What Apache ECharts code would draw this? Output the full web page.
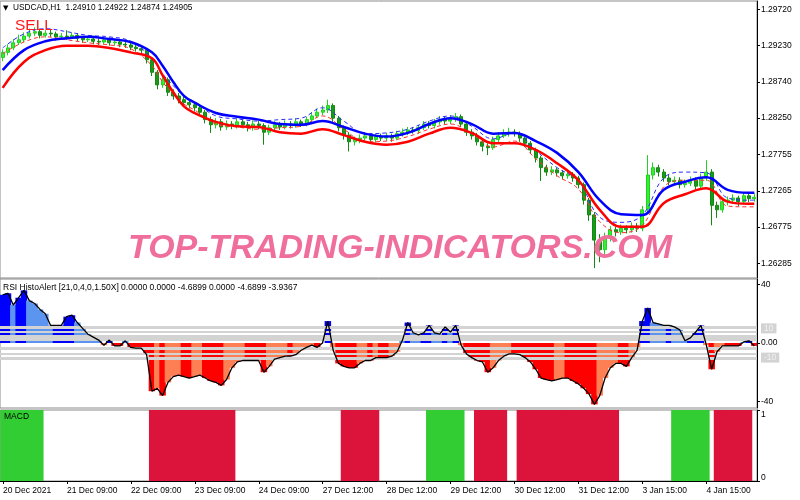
<!DOCTYPE html>
<html><head><meta charset="utf-8">
<script src="https://cdn.jsdelivr.net/npm/echarts@6/dist/echarts.min.js"></script>
<style>html,body{margin:0;padding:0;background:#fff}#c{width:800px;height:500px}</style>
</head><body><div id="c"></div>
<script>
// ---- price candles (H1 bars, sampled) ----
const opens = [
1.2907,1.2914,1.2920,1.2927,1.2931,1.2936,1.2940,1.2942,1.2937,1.2940,1.2939,1.2935,
1.2936,1.2935,1.2937,1.2933,1.2931,1.2932,1.2929,1.2928,1.2931,1.2927,1.2928,1.2925,
1.2924,1.2921,1.2919,1.2917,1.2904,1.2887,1.2870,1.2877,1.2860,1.2855,1.2850,1.2846,
1.2843,1.2839,1.2833,1.2823,1.2816,1.2820,1.2813,1.2817,1.2815,1.2820,1.2816,1.2812,
1.2817,1.2815,1.2806,1.2812,1.2816,1.2813,1.2817,1.2815,1.2820,1.2817,1.2823,1.2828,
1.2833,1.2836,1.2842,1.2825,1.2812,1.2802,1.2793,1.2796,1.2798,1.2801,1.2796,1.2800,
1.2798,1.2801,1.2798,1.2804,1.2806,1.2809,1.2808,1.2812,1.2817,1.2815,1.2820,1.2823,
1.2821,1.2824,1.2827,1.2817,1.2806,1.2801,1.2793,1.2787,1.2785,1.2796,1.2801,1.2804,
1.2806,1.2804,1.2798,1.2791,1.2782,1.2771,1.2758,1.2752,1.2755,1.2751,1.2747,1.2749,
1.2744,1.2735,1.2714,1.2694,1.2660,1.2647,1.2663,1.2674,1.2671,1.2676,1.2674,1.2679,
1.2676,1.2701,1.2748,1.2758,1.2752,1.2744,1.2739,1.2741,1.2735,1.2737,1.2741,1.2733,
1.2744,1.2752,1.2707,1.2701,1.2712,1.2714,1.2717,1.2712,1.2720,1.2716];
const closes = [
1.2914,1.2920,1.2927,1.2931,1.2936,1.2940,1.2942,1.2937,1.2940,1.2939,1.2935,1.2936,
1.2935,1.2937,1.2933,1.2931,1.2932,1.2929,1.2928,1.2931,1.2927,1.2928,1.2925,1.2924,
1.2921,1.2919,1.2917,1.2904,1.2887,1.2870,1.2877,1.2860,1.2855,1.2850,1.2846,1.2843,
1.2839,1.2833,1.2823,1.2816,1.2820,1.2813,1.2817,1.2815,1.2820,1.2816,1.2812,1.2817,
1.2815,1.2806,1.2812,1.2816,1.2813,1.2817,1.2815,1.2820,1.2817,1.2823,1.2828,1.2833,
1.2836,1.2842,1.2825,1.2812,1.2802,1.2793,1.2796,1.2798,1.2801,1.2796,1.2800,1.2798,
1.2801,1.2798,1.2804,1.2806,1.2809,1.2808,1.2812,1.2817,1.2815,1.2820,1.2823,1.2821,
1.2824,1.2827,1.2817,1.2806,1.2801,1.2793,1.2787,1.2785,1.2796,1.2801,1.2804,1.2806,
1.2804,1.2798,1.2791,1.2782,1.2771,1.2758,1.2752,1.2755,1.2751,1.2747,1.2749,1.2744,
1.2735,1.2714,1.2694,1.2660,1.2647,1.2663,1.2674,1.2671,1.2676,1.2674,1.2679,1.2676,
1.2701,1.2748,1.2758,1.2752,1.2744,1.2739,1.2741,1.2735,1.2737,1.2741,1.2733,1.2744,
1.2752,1.2707,1.2701,1.2712,1.2714,1.2717,1.2712,1.2720,1.2716,1.2718];
const highs = [
1.2918,1.2925,1.2932,1.2938,1.2941,1.2946,1.2948,1.2946,1.2944,1.2945,1.2942,1.2940,
1.2944,1.2941,1.2940,1.2936,1.2936,1.2935,1.2933,1.2935,1.2934,1.2932,1.2931,1.2929,
1.2927,1.2925,1.2923,1.2920,1.2907,1.2890,1.2882,1.2880,1.2864,1.2859,1.2854,1.2850,
1.2847,1.2843,1.2836,1.2827,1.2825,1.2824,1.2822,1.2821,1.2825,1.2824,1.2820,1.2822,
1.2821,1.2818,1.2816,1.2821,1.2820,1.2822,1.2821,1.2825,1.2823,1.2827,1.2833,1.2838,
1.2842,1.2850,1.2845,1.2828,1.2815,1.2806,1.2800,1.2803,1.2806,1.2804,1.2804,1.2804,
1.2805,1.2804,1.2808,1.2811,1.2813,1.2813,1.2816,1.2821,1.2821,1.2824,1.2828,1.2827,
1.2829,1.2832,1.2830,1.2820,1.2810,1.2805,1.2797,1.2791,1.2800,1.2806,1.2810,1.2812,
1.2810,1.2807,1.2801,1.2794,1.2785,1.2774,1.2762,1.2760,1.2758,1.2755,1.2754,1.2752,
1.2747,1.2738,1.2717,1.2698,1.2668,1.2670,1.2679,1.2678,1.2681,1.2680,1.2684,1.2683,
1.2706,1.2775,1.2765,1.2762,1.2756,1.2748,1.2746,1.2745,1.2742,1.2746,1.2745,1.2750,
1.2768,1.2756,1.2712,1.2717,1.2719,1.2722,1.2720,1.2725,1.2724,1.2723];
const lows = [
1.2902,1.2910,1.2917,1.2924,1.2928,1.2933,1.2936,1.2933,1.2934,1.2935,1.2930,1.2931,
1.2931,1.2932,1.2929,1.2927,1.2928,1.2925,1.2924,1.2925,1.2923,1.2923,1.2921,1.2920,
1.2917,1.2915,1.2911,1.2899,1.2882,1.2864,1.2866,1.2855,1.2850,1.2845,1.2841,1.2838,
1.2834,1.2828,1.2818,1.2805,1.2811,1.2808,1.2809,1.2810,1.2811,1.2812,1.2807,1.2808,
1.2810,1.2789,1.2802,1.2808,1.2809,1.2810,1.2811,1.2812,1.2813,1.2814,1.2820,1.2825,
1.2829,1.2832,1.2820,1.2807,1.2796,1.2780,1.2788,1.2791,1.2794,1.2791,1.2792,1.2794,
1.2794,1.2793,1.2795,1.2800,1.2802,1.2804,1.2804,1.2809,1.2811,1.2811,1.2816,1.2817,
1.2817,1.2820,1.2813,1.2801,1.2796,1.2788,1.2780,1.2775,1.2782,1.2792,1.2798,1.2800,
1.2800,1.2793,1.2786,1.2777,1.2765,1.2740,1.2747,1.2748,1.2746,1.2742,1.2743,1.2739,
1.2730,1.2708,1.2686,1.2622,1.2630,1.2640,1.2658,1.2665,1.2667,1.2669,1.2670,1.2671,
1.2672,1.2698,1.2742,1.2746,1.2739,1.2734,1.2735,1.2730,1.2731,1.2733,1.2728,1.2730,
1.2740,1.2680,1.2690,1.2697,1.2707,1.2709,1.2706,1.2708,1.2711,1.2712];

// ---- moving average envelopes, read at these bar indices ----
const maIdx = [0,4,8,12,16,20,24,28,30,32,34,36,40,44,48,52,56,60,64,68,72,76,80,84,88,92,96,100,104,108,112,116,120,124,128,132,136,140,141];
const maUpper = [1.2890,1.2917,1.2929,1.2933,1.2935,1.2932,1.2928,1.2914,1.2896,1.2874,1.2855,1.2846,1.2832,1.2827,1.2823,1.2817,1.2816,1.2821,1.2813,1.2804,1.2800,1.2805,1.2817,1.2825,1.2817,1.2804,1.2805,1.2794,1.2778,1.2752,1.2714,1.2695,1.2694,1.2728,1.2739,1.2745,1.2728,1.2724,1.2724];
const maLower = [1.2866,1.2901,1.2917,1.2923,1.2923,1.2920,1.2914,1.2906,1.2883,1.2860,1.2841,1.2832,1.2820,1.2814,1.2813,1.2806,1.2804,1.2810,1.2802,1.2793,1.2789,1.2793,1.2804,1.2812,1.2805,1.2791,1.2791,1.2782,1.2764,1.2741,1.2701,1.2678,1.2678,1.2710,1.2722,1.2730,1.2712,1.2709,1.2709];
const fastUpper = [1.2920,1.2939,1.2946,1.2942,1.2937,1.2935,1.2929,1.2906,1.2885,1.2869,1.2855,1.2847,1.2828,1.2824,1.2821,1.2823,1.2825,1.2839,1.2821,1.2804,1.2805,1.2810,1.2821,1.2828,1.2814,1.2797,1.2805,1.2781,1.2758,1.2740,1.2691,1.2684,1.2694,1.2744,1.2752,1.2751,1.2717,1.2714,1.2714];
const fastLower = [1.2912,1.2928,1.2935,1.2931,1.2927,1.2924,1.2919,1.2896,1.2874,1.2858,1.2844,1.2836,1.2817,1.2813,1.2810,1.2812,1.2814,1.2828,1.2810,1.2793,1.2794,1.2800,1.2810,1.2817,1.2804,1.2786,1.2794,1.2770,1.2747,1.2729,1.2685,1.2670,1.2680,1.2732,1.2741,1.2741,1.2706,1.2705,1.2705];

// ---- RSI HistoAlert ----
const rsiValues = [
33,34,26,31,36,29,27,23,20,12,12,12,
18,19,14,10,6,4,2,-1.5,2,-2,-2,1.5,
-3,-3.5,-3.5,-8,-33,-31,-36,-27,-23,-22,-23,-24,
-23,-22,-24,-26,-27,-29,-25,-17,-13,-12,-12,-12,
-12,-20,-16,-11,-10,-9,-9,-8,-5,-3,-1.5,-3,
0,15,-5,-14,-16,-17,-17,-14,-12,-12,-10,-10,
-10,-9,-6,2,14,7,5.5,7,12,7,6,11,
7.5,12,-1.5,-7.5,-10,-12,-13,-20,-17,-12,-9,-7.5,
-7.5,-8,-10,-13,-18,-24,-25,-26,-25,-24,-24,-26,
-28,-31,-35,-42,-36,-24,-17,-14,-14,-16,-10,-5,
15,24,14,13,12,12,11,9,1.5,3.5,7.5,12,
-1.5,-18,-6,-2,-2,-2,-2,0.7,1.5,-2];
const rsiLevels = [10.5, 7.5, 3.5, -3.5, -7.3, -10.7];
const rsiLevelWidths = [3, 2, 6, 3, 2, 3];

// ---- MACD state blocks ----
const macdStart = [0, 28, 64, 80, 89, 97, 126, 134];
const macdEnd   = [7, 43, 70, 86, 94, 115, 132, 140];
const macdSign  = [1, -1, -1, 1, -1, -1, 1, -1];

// ---- ticks ----
const priceTicks = [1.29720, 1.29230, 1.28740, 1.28250, 1.27755, 1.27265, 1.26775, 1.26285];
const rsiTicks = [40, 10, 0, -10, -40];
const xTickBars = [0, 12, 24, 36, 48, 60, 72, 84, 96, 108, 120, 132];
const xTickLabels = ['20 Dec 2021','21 Dec 09:00','22 Dec 09:00','23 Dec 09:00','24 Dec 09:00','27 Dec 12:00','28 Dec 12:00','29 Dec 12:00','30 Dec 12:00','31 Dec 12:00','3 Jan 15:00','4 Jan 15:00'];

// ---- build ----
const N = closes.length;
const cats = Array.from({length: N}, (_, i) => i);
const candles = cats.map(i => [opens[i], closes[i], lows[i], highs[i]]);
const pairs = arr => maIdx.map((b, k) => [b, arr[k]]);
const rsiBars = rsiValues.map((v, i) => {
  const prev = i > 0 ? rsiValues[i - 1] : 0;
  const strong = Math.abs(v) >= Math.abs(prev);
  const color = v >= 0 ? (strong ? '#0000ff' : '#5b95ef') : (strong ? '#ff0000' : '#ff7f55');
  return {value: v, itemStyle: {color}};
});
const macdUp = cats.map(() => null), macdDn = cats.map(() => null);
macdStart.forEach((s, k) => { for (let i = s; i <= macdEnd[k]; i++) { if (macdSign[k] > 0) macdUp[i] = 1; else macdDn[i] = 1; } });

const FONT = '"Liberation Sans",Arial,sans-serif';
const FS = 8.5;
const isTick = i => xTickBars.indexOf(i) >= 0;
const gridCommon = {left: 0, right: 43, show: true, borderColor: '#8a8a8a', borderWidth: 1, backgroundColor: '#fff'};
const hiddenX = (gi) => ({type: 'category', gridIndex: gi, data: cats, boundaryGap: true,
  axisLine: {show: false}, axisTick: {show: false}, axisLabel: {show: false}, splitLine: {show: false}});

const chart = echarts.init(document.getElementById('c'), null, {renderer: 'canvas'});
chart.setOption({
  animation: false,
  backgroundColor: '#fff',
  grid: [
    Object.assign({top: 1, height: 277}, gridCommon),
    Object.assign({top: 279, height: 129}, gridCommon),
    Object.assign({top: 410, height: 71}, gridCommon)
  ],
  xAxis: [
    hiddenX(0), hiddenX(1),
    {type: 'category', gridIndex: 2, data: cats, boundaryGap: true,
     axisLine: {show: true, lineStyle: {color: '#000'}},
     axisTick: {show: true, alignWithLabel: true, interval: (i) => isTick(i), length: 3, lineStyle: {color: '#000'}},
     axisLabel: {show: true, interval: (i) => isTick(i), align: 'left', margin: 5, color: '#000', fontSize: FS, fontFamily: FONT,
       formatter: (v, i) => xTickLabels[xTickBars.indexOf(i)] || ''},
     splitLine: {show: false}}
  ],
  yAxis: [
    {type: 'value', gridIndex: 0, position: 'right', min: 1.26087, max: 1.29835,
     axisLine: {show: true, lineStyle: {color: '#000'}},
     axisTick: {show: true, length: 3, customValues: priceTicks, lineStyle: {color: '#000'}},
     axisLabel: {customValues: priceTicks, formatter: v => v.toFixed(5), color: '#000', fontSize: FS, margin: 4, fontFamily: FONT},
     splitLine: {show: false}},
    {type: 'value', gridIndex: 1, position: 'right', min: -44.5, max: 43.8,
     axisLine: {show: true, lineStyle: {color: '#000'}},
     axisTick: {show: true, length: 3, customValues: [40, 0, -40], lineStyle: {color: '#000'}},
     axisLabel: {customValues: rsiTicks, color: '#000', fontSize: FS, margin: 4, fontFamily: FONT,
       formatter: v => (v === 10 || v === -10) ? '{lv|' + v + '}' : (v === 0 ? '0.00' : String(v)),
       rich: {lv: {backgroundColor: '#d3d3d3', color: '#f2f2f2', padding: [1, 3, 0, 3], fontSize: FS, fontFamily: FONT}}},
     splitLine: {show: false}},
    {type: 'value', gridIndex: 2, position: 'right', min: 0, max: 1,
     axisLine: {show: true, lineStyle: {color: '#000'}},
     axisTick: {show: true, length: 3, customValues: [0, 1], lineStyle: {color: '#000'}},
     axisLabel: {customValues: [0, 1], color: '#000', fontSize: FS, margin: 4, fontFamily: FONT,
       formatter: v => v === 1 ? '{t|1}' : '{b|0}',
       rich: {t: {padding: [10, 0, 0, 0], fontSize: FS, fontFamily: FONT}, b: {padding: [0, 0, 6, 0], fontSize: FS, fontFamily: FONT}}},
     splitLine: {show: false}}
  ],
  series: [
    {type: 'candlestick', xAxisIndex: 0, yAxisIndex: 0, data: candles, barWidth: 3.5,
     itemStyle: {color: '#33ee33', color0: '#1a9a1a', borderColor: '#22d022', borderColor0: '#128a12', borderWidth: 1}},
    {type: 'line', xAxisIndex: 0, yAxisIndex: 0, data: pairs(fastUpper), smooth: 0.4, symbol: 'none',
     lineStyle: {color: '#2a2aff', width: 1, type: [4, 3]}},
    {type: 'line', xAxisIndex: 0, yAxisIndex: 0, data: pairs(fastLower), smooth: 0.4, symbol: 'none',
     lineStyle: {color: '#ff3030', width: 1, type: [4, 3]}},
    {type: 'line', xAxisIndex: 0, yAxisIndex: 0, data: pairs(maUpper), smooth: 0.4, symbol: 'none',
     lineStyle: {color: '#0000ff', width: 2.5}},
    {type: 'line', xAxisIndex: 0, yAxisIndex: 0, data: pairs(maLower), smooth: 0.4, symbol: 'none',
     lineStyle: {color: '#ff0000', width: 2.5}},
    {type: 'bar', xAxisIndex: 1, yAxisIndex: 1, data: rsiBars, barWidth: 6.5, z: 2,
     markLine: {silent: true, symbol: 'none', label: {show: false},
       data: rsiLevels.map((v, k) => ({yAxis: v, lineStyle: {color: '#d3d3d3', width: rsiLevelWidths[k], type: 'solid'}}))}},
    {type: 'line', xAxisIndex: 1, yAxisIndex: 1, data: rsiValues, symbol: 'none', z: 5,
     lineStyle: {color: '#000', width: 1.3}},
    {type: 'bar', xAxisIndex: 2, yAxisIndex: 2, data: macdUp, barWidth: 6.5, barGap: '-100%',
     itemStyle: {color: '#32cd32'}},
    {type: 'bar', xAxisIndex: 2, yAxisIndex: 2, data: macdDn, barWidth: 6.5, barGap: '-100%',
     itemStyle: {color: '#dc143c'}}
  ],
  graphic: [
    {type: 'text', left: 3, top: 5, z: 100, style: {text: '▼', fontSize: 7, fill: '#000', fontFamily: 'DejaVu Sans'}},
    {type: 'text', left: 13, top: 4, z: 100, style: {text: 'USDCAD,H1  1.24910 1.24922 1.24874 1.24905', fontSize: 8.3, fill: '#000', fontFamily: FONT}},
    {type: 'text', left: 15, top: 18, z: 100, style: {text: 'SELL', fontSize: 15.5, fill: '#ff1a1a', fontFamily: FONT}},
    {type: 'text', x: 400, y: 249, z: 100, style: {text: 'TOP-TRADING-INDICATORS.COM', align: 'center', verticalAlign: 'middle',
      fontSize: 34, fontWeight: 'bold', fontStyle: 'italic', fill: '#ef6e9c', fontFamily: '"Liberation Sans",Arial,sans-serif'}},
    {type: 'text', left: 3, top: 283, z: 100, style: {text: 'RSI HistoAlert [21,0,4,0,1.50X] 0.0000 0.0000 -4.6899 0.0000 -4.6899 -3.9367', fontSize: 8.5, fill: '#000', fontFamily: FONT}},
    {type: 'text', left: 4, top: 412, z: 100, style: {text: 'MACD', fontSize: 8.5, fill: '#000', fontFamily: FONT}}
  ]
});
</script></body></html>
